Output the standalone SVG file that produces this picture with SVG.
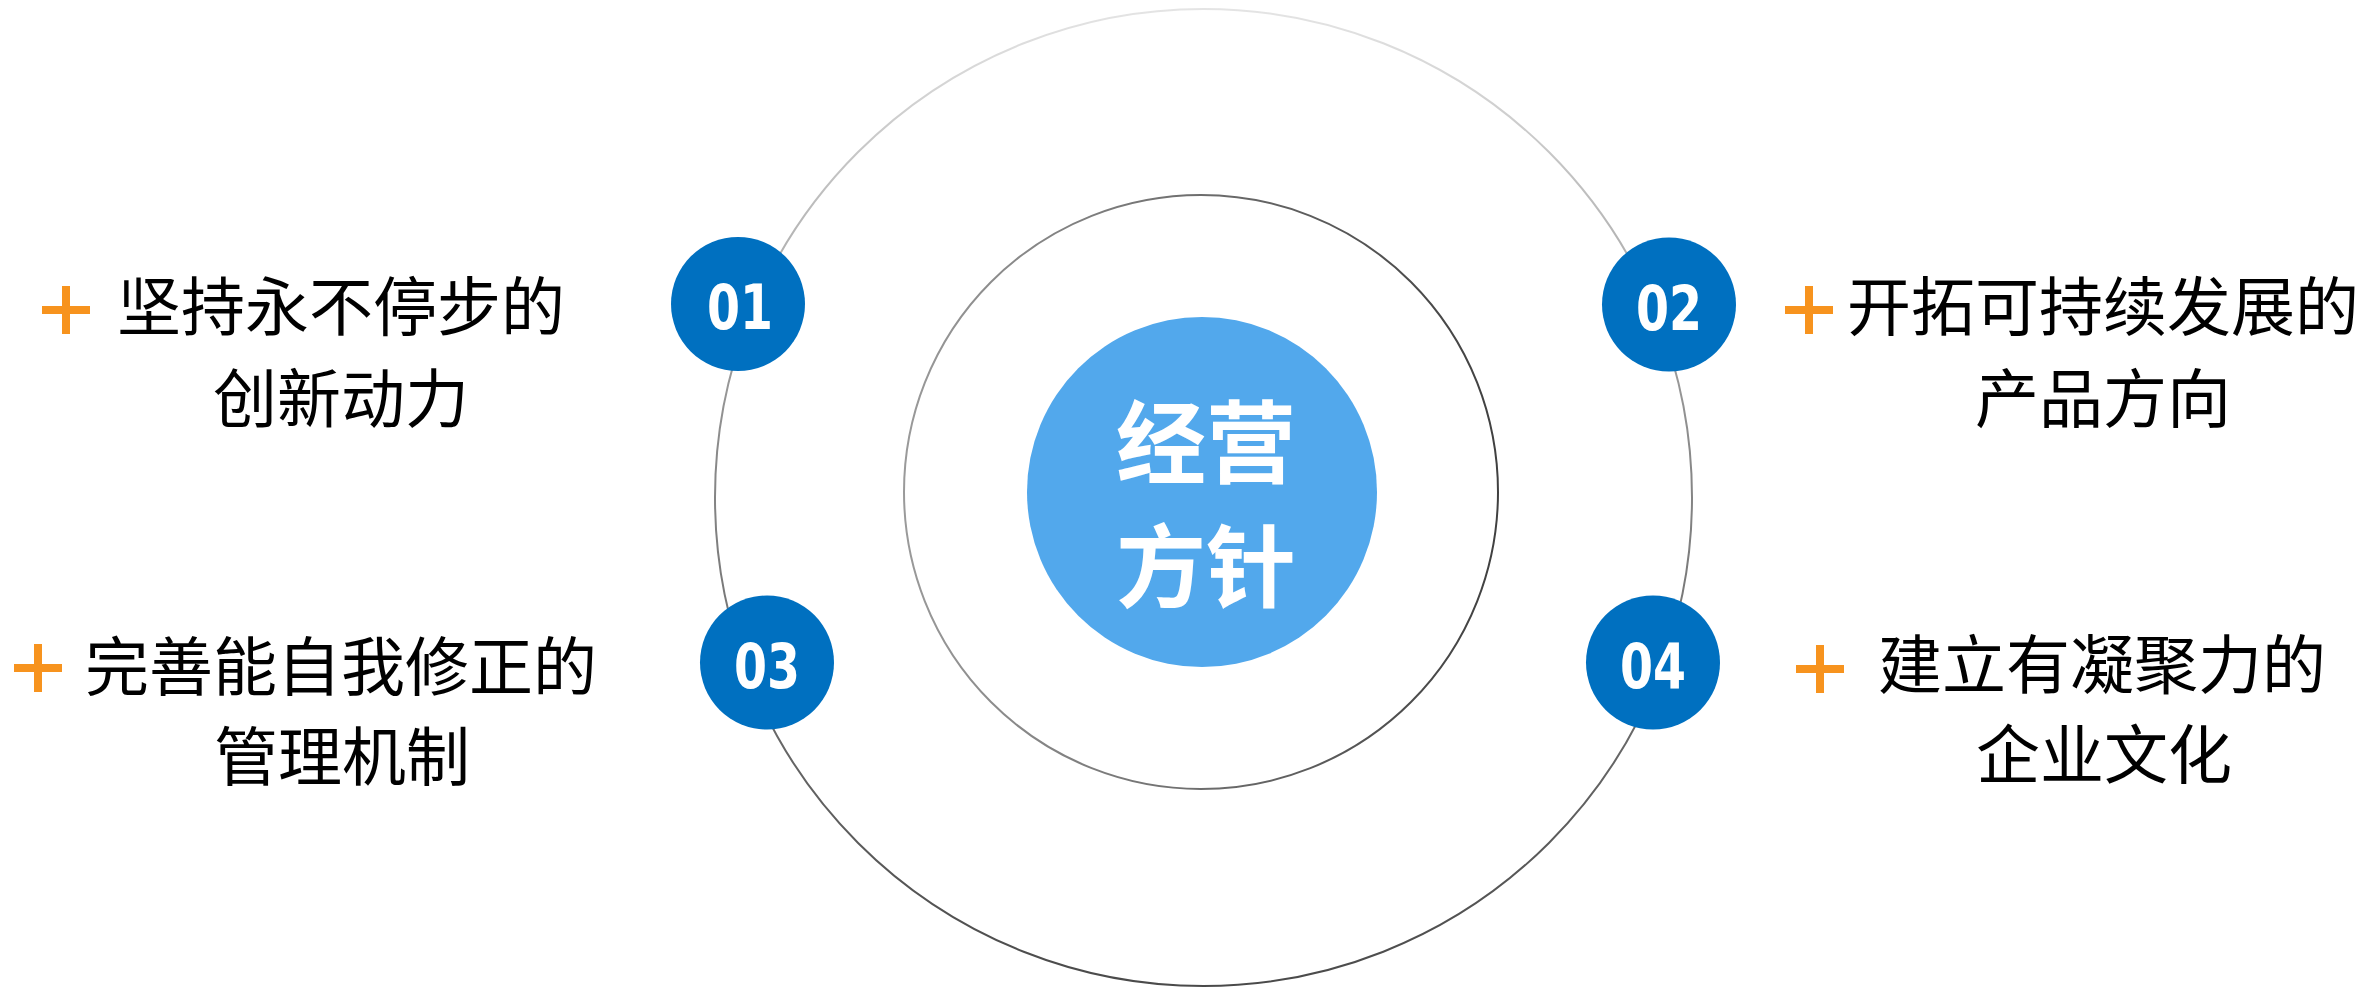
<svg xmlns="http://www.w3.org/2000/svg" width="2366" height="987" viewBox="0 0 2366 987">
<defs>
<linearGradient id="gOuter" x1="0" y1="0" x2="0" y2="1">
<stop offset="0" stop-color="#e4e4e4"/>
<stop offset="0.45" stop-color="#8a8a8a"/>
<stop offset="1" stop-color="#4a4a4a"/>
</linearGradient>
<linearGradient id="gInner" x1="0" y1="0" x2="1" y2="0">
<stop offset="0" stop-color="#9a9a9a"/>
<stop offset="1" stop-color="#404040"/>
</linearGradient>
<style>
.lbl{font-family:"Noto Sans CJK SC","Noto Sans CJK TC",sans-serif;font-size:64px;fill:#000;text-anchor:middle}
.ctr{font-family:"Noto Sans CJK SC",sans-serif;font-size:90px;font-weight:bold;fill:#fff;text-anchor:middle}
.num{font-family:"DejaVu Sans",sans-serif;font-size:63px;font-weight:bold;fill:#fff;text-anchor:middle}
.badge{fill:#0070C0}
.plus{stroke:#F7931E;stroke-width:8;fill:none}
</style>
</defs>
<rect width="2366" height="987" fill="#fff"/>
<g id="rings">
<circle cx="1203.5" cy="497.5" r="488.5" fill="none" stroke="url(#gOuter)" stroke-width="2"/>
<circle cx="1201" cy="492" r="297" fill="none" stroke="url(#gInner)" stroke-width="2"/>
</g>
<g id="center">
<circle cx="1202" cy="492" r="175" fill="#52A8EC"/>
<text class="ctr" x="1206" y="476">经营</text>
<text class="ctr" x="1206" y="600">方针</text>
</g>
<g id="n01">
<circle class="badge" cx="738" cy="304" r="67"/>
<text class="num" x="740" y="329" textLength="66" lengthAdjust="spacingAndGlyphs">01</text>
</g>
<g id="n02">
<circle class="badge" cx="1669" cy="304.5" r="67"/>
<text class="num" x="1669" y="330" textLength="66" lengthAdjust="spacingAndGlyphs">02</text>
</g>
<g id="n03">
<circle class="badge" cx="767" cy="662.5" r="67"/>
<text class="num" x="767" y="688" textLength="66" lengthAdjust="spacingAndGlyphs">03</text>
</g>
<g id="n04">
<circle class="badge" cx="1653" cy="662.5" r="67"/>
<text class="num" x="1653" y="688" textLength="66" lengthAdjust="spacingAndGlyphs">04</text>
</g>
<g id="t01">
<path class="plus" d="M42 310H90M66 286V334"/>
<text class="lbl" x="341" y="330">坚持永不停步的</text>
<text class="lbl" x="341" y="422">创新动力</text>
</g>
<g id="t02">
<path class="plus" d="M1785 310H1833M1809 286V334"/>
<text class="lbl" x="2103" y="330">开拓可持续发展的</text>
<text class="lbl" x="2103" y="422">产品方向</text>
</g>
<g id="t03">
<path class="plus" d="M14 668H62M38 644V692"/>
<text class="lbl" x="341" y="690">完善能自我修正的</text>
<text class="lbl" x="342" y="780">管理机制</text>
</g>
<g id="t04">
<path class="plus" d="M1796 669H1844M1820 645V693"/>
<text class="lbl" x="2102" y="688">建立有凝聚力的</text>
<text class="lbl" x="2104" y="778">企业文化</text>
</g>
</svg>
